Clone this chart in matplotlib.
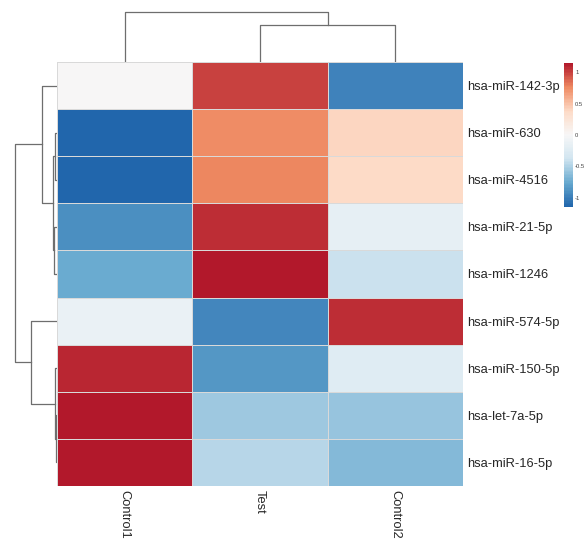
import numpy as np
import matplotlib
matplotlib.use("Agg")
import matplotlib.pyplot as plt
from matplotlib.colors import LinearSegmentedColormap

plt.rcParams["font.family"] = ["Liberation Sans", "DejaVu Sans"]

# ---------- data (row-scaled expression, display order) ----------
mirnas = ["hsa-miR-142-3p", "hsa-miR-630", "hsa-miR-4516", "hsa-miR-21-5p",
          "hsa-miR-1246", "hsa-miR-574-5p", "hsa-miR-150-5p", "hsa-let-7a-5p",
          "hsa-miR-16-5p"]
samples = ["Control1", "Test", "Control2"]

control1 = [0.02, -1.13, -1.13, -0.90, -0.75, -0.13, 1.10, 1.15, 1.15]
test = [1.00, 0.74, 0.78, 1.08, 1.15, -0.95, -0.86, -0.56, -0.47]
control2 = [-0.98, 0.40, 0.37, -0.17, -0.40, 1.06, -0.24, -0.58, -0.66]

# dendrogram merges: (left, right, height); leaves are indices in display order
row_links = [(1, 2, 2), (3, 4, 3), (9, 10, 4.5), (0, 11, 15),
             (7, 8, 1), (6, 13, 2), (5, 14, 26), (12, 15, 42)]
col_links = [(1, 2, 37), (0, 3, 50)]

cbar_ticks = [-1, -0.5, 0, 0.5, 1]

# ---------- colours ----------
rdbu7 = ["#2166ac", "#67a9cf", "#d1e5f0", "#f7f7f7", "#fddbc7", "#ef8a62", "#b2182b"]
cmap = LinearSegmentedColormap.from_list("rdbu7", rdbu7, N=100)
VMAX = 1.15
LINE = "#6e6e6e"

W, H = 587, 544
fig = plt.figure(figsize=(W / 100, H / 100), dpi=100)


def px_axes(x0, y0, x1, y1):
    return fig.add_axes([x0 / W, 1 - y1 / H, (x1 - x0) / W, (y1 - y0) / H])


def dendro_segments(n, links):
    pos = {i: i + 0.5 for i in range(n)}
    hgt = {i: 0.0 for i in range(n)}
    segs = []
    for k, (a, b, h) in enumerate(links):
        segs.append(([hgt[a], h, h, hgt[b]], [pos[a], pos[a], pos[b], pos[b]]))
        pos[n + k] = (pos[a] + pos[b]) / 2
        hgt[n + k] = h
    return segs


# ---------- heatmap ----------
ax = px_axes(57, 62, 463, 486)
mat = np.array([control1, test, control2]).T
ax.pcolormesh(mat, cmap=cmap, vmin=-VMAX, vmax=VMAX,
              edgecolors="#d9d9d9", linewidth=0.5)
ax.set_xlim(0, len(samples))
ax.set_ylim(len(mirnas), 0)
for s in ax.spines.values():
    s.set_visible(False)
ax.set_xticks(np.arange(len(samples)) + 0.5)
ax.set_xticklabels(samples, rotation=270, va="top", ha="center")
ax.set_yticks(np.arange(len(mirnas)) + 0.5)
ax.set_yticklabels(mirnas)
ax.yaxis.tick_right()
ax.tick_params(length=0, labelsize=9.3, labelcolor="#262626", pad=3)

# ---------- row dendrogram ----------
axr = px_axes(0, 62, 57, 486)
for hs, ps in dendro_segments(len(mirnas), row_links):
    axr.plot(hs, ps, color=LINE, lw=0.9)
axr.set_xlim(57, 0)
axr.set_ylim(len(mirnas), 0)
axr.axis("off")

# ---------- column dendrogram ----------
axc = px_axes(57, 0, 463, 62)
for hs, ps in dendro_segments(len(samples), col_links):
    axc.plot(ps, hs, color=LINE, lw=0.9)
axc.set_xlim(0, len(samples))
axc.set_ylim(0, 62)
axc.axis("off")

# ---------- colour bar ----------
cax = px_axes(564, 63, 573, 207)
sm = plt.cm.ScalarMappable(cmap=cmap, norm=plt.Normalize(-VMAX, VMAX))
cb = fig.colorbar(sm, cax=cax, ticks=cbar_ticks)
cb.outline.set_visible(False)
cb.ax.set_yticklabels(["-1", "-0.5", "0", "0.5", "1"])
cb.ax.tick_params(length=0, labelsize=4.2, labelcolor="#444444", pad=1.5)

fig.savefig("out.png", dpi=100)
